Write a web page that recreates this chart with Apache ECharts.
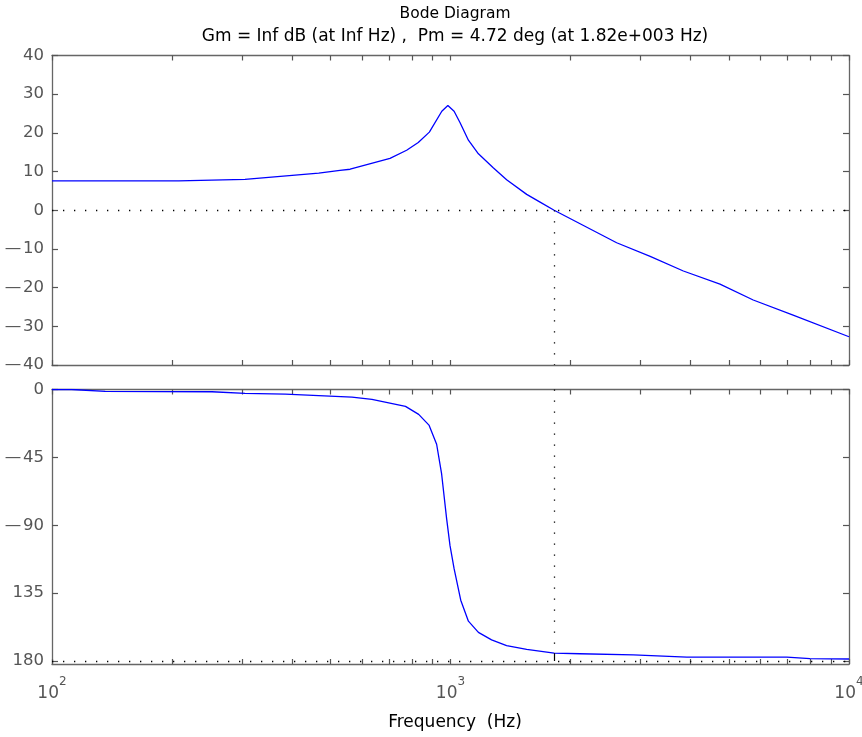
<!DOCTYPE html>
<html>
<head>
<meta charset="utf-8">
<script src="https://cdn.jsdelivr.net/npm/echarts@6/dist/echarts.min.js"></script>
<style>
html,body{margin:0;padding:0;background:#fff;}
#chart{width:862px;height:737px;}
</style>
</head>
<body>
<div id="chart"></div>
<script>
// ---- data ----
const magFreq = [100, 208, 305, 467, 528, 560, 705, 776, 830, 885, 951, 985, 1021, 1057, 1109, 1175, 1280, 1383, 1553, 1678, 1820, 2612, 3170, 3840, 4745, 5750, 7240, 10000];
const magDb   = [7.6, 7.6, 8.0, 9.6, 10.3, 10.6, 13.4, 15.5, 17.5, 20.2, 25.6, 27.1, 25.6, 22.6, 18.1, 14.6, 11.0, 7.9, 4.1, 2.1, 0.0, -8.4, -11.9, -15.7, -19.1, -23.2, -27.1, -32.7];
const phaseFreq = [100, 112, 136, 252, 305, 385, 566, 635, 771, 832, 883, 923, 950, 978, 997, 1021, 1061, 1109, 1175, 1268, 1383, 1553, 1820, 2113, 2876, 3917, 6985, 7980, 10000];
const phaseDeg  = [0, 0, -1.3, -1.5, -2.6, -3.1, -5.0, -6.6, -11.2, -16.5, -23.6, -36.3, -56, -85.8, -103.4, -118.8, -139.7, -153.6, -161, -166, -169.8, -172.3, -174.8, -175.2, -176, -177.4, -177.4, -178.4, -178.7];
const crossFreq = [1820];
const crossPhase = [-174.8];
const dbTicks = [-40, -30, -20, -10, 0, 10, 20, 30, 40];
const phaseTicks = [0, -45, -90, -135, -180];
const phaseTickLabels = ['0', '\u2014\u200a45', '\u2014\u200a90', '135', '180'];
const freqMajor = [100, 1000, 10000];
const freqTicks = [100, 200, 300, 400, 500, 600, 700, 800, 900, 1000, 2000, 3000, 4000, 5000, 6000, 7000, 8000, 9000, 10000];
const titleLines = ['Bode Diagram', 'Gm = Inf dB (at Inf Hz) ,  Pm = 4.72 deg (at 1.82e+003 Hz)'];
const xLabel = 'Frequency  (Hz)';

// ---- chart ----
const FONT = '"DejaVu Sans", "Liberation Sans", Arial, sans-serif';
const AXIS_COLOR = '#666';
const TICK_COLOR = '#555';
const LABEL_COLOR = '#555';
const chart = echarts.init(document.getElementById('chart'), null, {renderer: 'canvas'});

function axisLineStyle() {
  return {show: true, onZero: false, lineStyle: {color: AXIS_COLOR, width: 1.3}};
}
function xAx(grid, pos, withLabels) {
  return {
    type: 'log', logBase: 10, min: 100, max: 10000, gridIndex: grid, position: pos,
    axisLine: axisLineStyle(),
    axisTick: {show: true, inside: true, length: 5, customValues: freqTicks.slice(), lineStyle: {color: TICK_COLOR, width: 1.2}},
    axisLabel: withLabels ? {
      show: true, customValues: freqMajor.slice(), margin: 12,
      formatter: v => '{b|10}{s|' + Math.round(Math.log10(v)) + '}',
      rich: {
        b: {fontFamily: FONT, fontSize: 17, color: LABEL_COLOR},
        s: {fontFamily: FONT, fontSize: 12, color: LABEL_COLOR, padding: [0, 0, 24, 0]}
      }
    } : {show: false},
    splitLine: {show: false},
    minorTick: {show: false}
  };
}
function yAx(grid, pos, min, max, ticks, labels) {
  const a = {
    type: 'value', gridIndex: grid, position: pos, min: min, max: max,
    axisLine: axisLineStyle(),
    axisTick: {show: true, inside: true, length: 6, customValues: ticks.slice(), lineStyle: {color: TICK_COLOR, width: 1.2}},
    axisLabel: labels ? {
      show: true, customValues: ticks.slice(), margin: 8,
      fontFamily: FONT, fontSize: 16.5, color: LABEL_COLOR,
      formatter: labels
    } : {show: false},
    splitLine: {show: false}
  };
  return a;
}

const dotted = {color: '#000', width: 1.3, type: [1.3, 9.7]};

const option = {
  animation: false,
  backgroundColor: '#fff',
  title: [
    {text: titleLines[0], left: 450, top: 1, textAlign: 'center',
     textStyle: {fontFamily: FONT, fontSize: 15.5, fontWeight: 'normal', color: '#000'}},
    {text: titleLines[1], left: 450, top: 23, textAlign: 'center',
     textStyle: {fontFamily: FONT, fontSize: 17, fontWeight: 'normal', color: '#000'}},
    {text: xLabel, left: 450, top: 709, textAlign: 'center',
     textStyle: {fontFamily: FONT, fontSize: 17, fontWeight: 'normal', color: '#000'}}
  ],
  grid: [
    {left: 52, top: 55.5, width: 797, height: 309.5, outerBoundsMode: 'none', containLabel: false},
    {left: 52, top: 389.5, width: 797, height: 274.5, outerBoundsMode: 'none', containLabel: false}
  ],
  xAxis: [
    xAx(0, 'bottom', false), xAx(0, 'top', false),
    xAx(1, 'bottom', true), xAx(1, 'top', false)
  ],
  yAxis: [
    yAx(0, 'left', -40, 40, dbTicks, v => String(v).replace('-', '\u2014\u200a')),
    yAx(0, 'right', -40, 40, dbTicks, null),
    yAx(1, 'left', -182, 0, phaseTicks, v => phaseTickLabels[phaseTicks.indexOf(v)] ?? ''),
    yAx(1, 'right', -182, 0, phaseTicks, null)
  ],
  series: [
    {
      type: 'line', xAxisIndex: 0, yAxisIndex: 0,
      data: magFreq.map((f, i) => [f, magDb[i]]),
      showSymbol: false, symbol: 'none',
      lineStyle: {color: '#0000ff', width: 1.3},
      z: 3,
      markLine: {
        silent: true, symbol: 'none', label: {show: false},
        lineStyle: dotted,
        data: [
          {yAxis: 0},
          [{coord: [crossFreq[0], 0]}, {coord: [crossFreq[0], -40]}]
        ]
      }
    },
    {
      type: 'line', xAxisIndex: 2, yAxisIndex: 2,
      data: phaseFreq.map((f, i) => [f, phaseDeg[i]]),
      showSymbol: false, symbol: 'none',
      lineStyle: {color: '#0000ff', width: 1.3},
      z: 3,
      markLine: {
        silent: true, symbol: 'none', label: {show: false},
        lineStyle: dotted,
        data: [
          {yAxis: -180},
          [{coord: [crossFreq[0], 0]}, {coord: [crossFreq[0], crossPhase[0]]}],
          [{coord: [crossFreq[0], crossPhase[0]], lineStyle: {color: '#000', width: 1.2, type: 'solid'}},
           {coord: [crossFreq[0], -180]}]
        ]
      }
    }
  ]
};
chart.setOption(option);
</script>
</body>
</html>
